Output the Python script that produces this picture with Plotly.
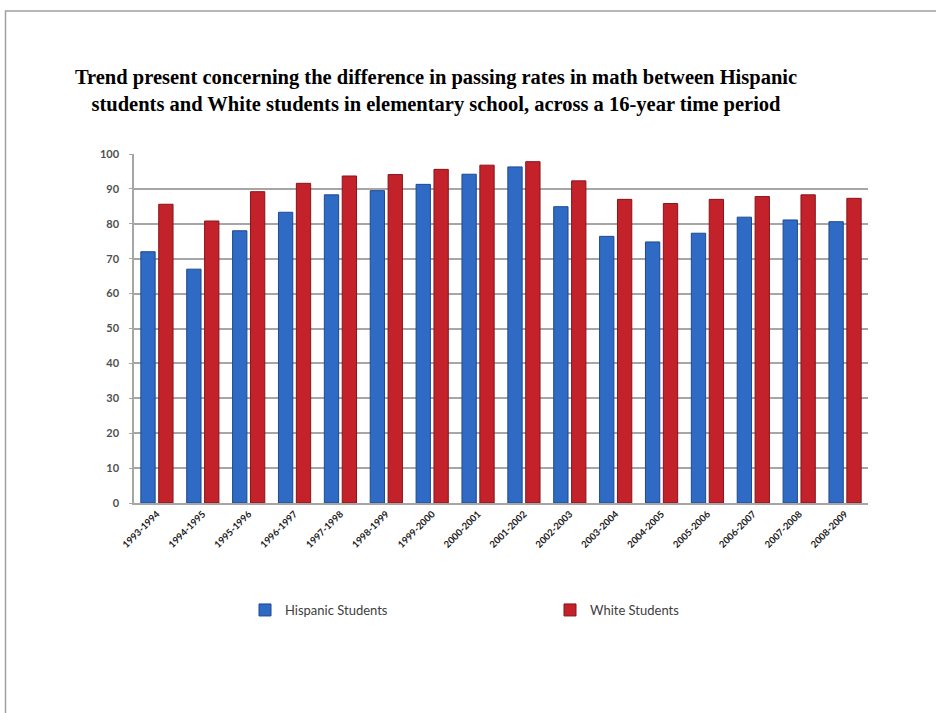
import plotly.graph_objects as go

periods = ["1993-1994", "1994-1995", "1995-1996", "1996-1997", "1997-1998", "1998-1999",
           "1999-2000", "2000-2001", "2001-2002", "2002-2003", "2003-2004", "2004-2005",
           "2005-2006", "2006-2007", "2007-2008", "2008-2009"]
hispanic = [72, 67, 78, 83.3, 88.3, 89.5, 91.3, 94.2, 96.3, 84.9, 76.4, 74.8, 77.3, 81.9, 81.1, 80.6]
white = [85.6, 80.8, 89.2, 91.6, 93.7, 94.1, 95.6, 96.8, 97.8, 92.3, 87.0, 85.8, 87.0, 87.8, 88.3, 87.3]
y_ticks = [0, 10, 20, 30, 40, 50, 60, 70, 80, 90, 100]

title = ("Trend present concerning the difference in passing rates in math between Hispanic<br>"
         "students and White students in elementary school, across a 16-year time period")

W, H = 936, 713
L, R, T, B = 134, 68, 154, 210
pw = W - L - R
ph = H - T - B

fig = go.Figure()
fig.add_trace(go.Bar(x=periods, y=hispanic, name="Hispanic Students", legend="legend2", showlegend=True,
                     marker=dict(color="#2F6AC4", line=dict(color="#1D4A8E", width=1))))
fig.add_trace(go.Bar(x=periods, y=white, name="White Students", legend="legend3", showlegend=True,
                     marker=dict(color="#C4222B", line=dict(color="#871419", width=1))))

legend_font = dict(family="Lato", size=13, color="#404040")
leg_y = -(610 - (H - B)) / ph

fig.update_layout(
    width=W, height=H,
    margin=dict(l=L, r=R, t=T, b=B),
    paper_bgcolor="white", plot_bgcolor="white",
    showlegend=True,
    barmode="group", bargap=0.22, bargroupgap=0.2,
    title=dict(text=title, x=436 / W, xanchor="center", xref="container",
               y=1 - 84 / H, yanchor="middle", yref="container",
               font=dict(family="Liberation Serif", size=20.5, color="black", weight="bold")),
    xaxis=dict(tickangle=-45, showgrid=False, showline=True, linecolor="#A6A6A6", linewidth=1.5,
               tickfont=dict(family="Lato", size=9.5, color="#1A1A1A", weight="bold"), ticks=""),
    yaxis=dict(range=[0, 100], tickvals=y_ticks, showgrid=True, gridcolor="#A6A6A6", gridwidth=1.5,
               showline=True, linecolor="#A6A6A6", linewidth=1.5, ticks="outside", ticklen=3,
               tickcolor="#A6A6A6", zeroline=False, ticklabelstandoff=8,
               tickfont=dict(family="Lato", size=11, color="#505050", weight="bold")),
    legend2=dict(x=(245 - L) / pw, xanchor="left", y=leg_y, yanchor="middle", visible=True,
                 font=legend_font, itemwidth=30, bgcolor="rgba(0,0,0,0)"),
    legend3=dict(x=(550 - L) / pw, xanchor="left", y=leg_y, yanchor="middle", visible=True,
                 font=legend_font, itemwidth=30, bgcolor="rgba(0,0,0,0)"),
    shapes=[dict(type="rect", xref="paper", yref="paper",
                 x0=(5.5 - L) / pw, x1=(W + 50 - L) / pw,
                 y0=-(H + 50 - (H - B)) / ph, y1=(H - B - 11) / ph,
                 line=dict(color="#A0A0A0", width=1.5), layer="below")],
)

fig.write_html("out.html")
